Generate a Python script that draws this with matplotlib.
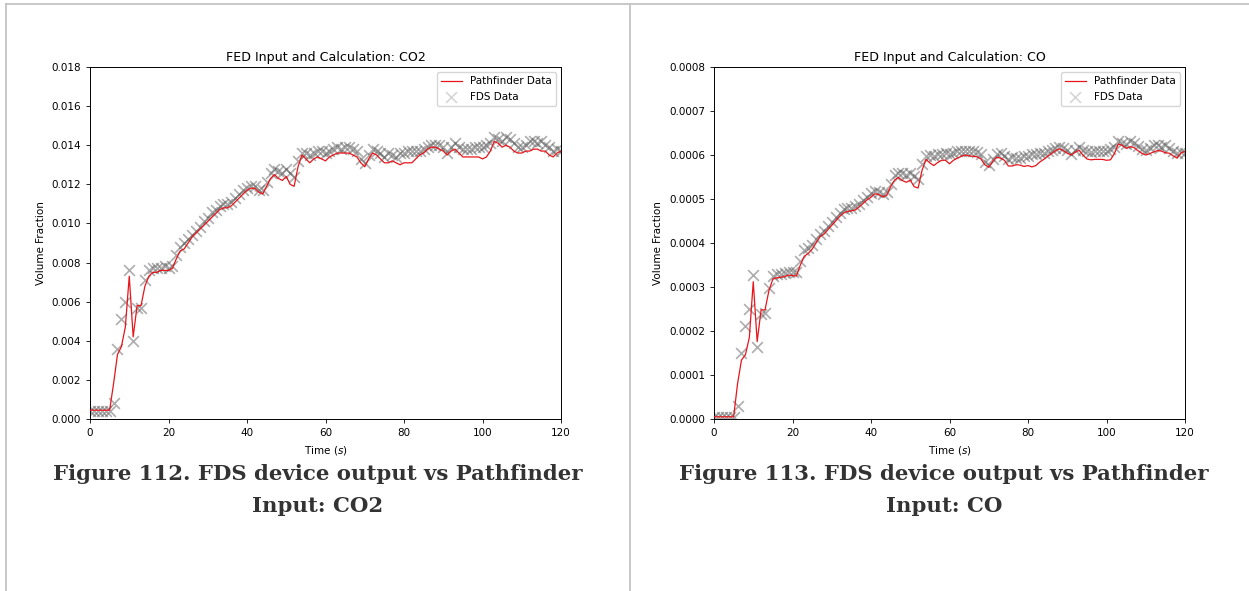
import numpy as np
import matplotlib.pyplot as plt
from matplotlib.lines import Line2D

# tiempo en segundos (una muestra por segundo)
tiempo = list(range(0, 121))

pf_co2 = [
    0.00045, 0.00045, 0.00045, 0.00045, 0.00045, 0.00045, 0.0018, 0.0033, 0.0037, 0.0047,
    0.0073, 0.0042, 0.0058, 0.0058, 0.0068, 0.0073, 0.0075, 0.0075, 0.0076, 0.0076,
    0.0076, 0.0077, 0.0082, 0.0086, 0.0087, 0.0090, 0.0093, 0.0095, 0.0097, 0.0099,
    0.0101, 0.0103, 0.0105, 0.0107, 0.0108, 0.0108, 0.0109, 0.0111, 0.0113, 0.0115,
    0.0117, 0.0118, 0.0118, 0.0116, 0.0115, 0.0119, 0.0123, 0.0125, 0.0123, 0.0122,
    0.0124, 0.0120, 0.0119, 0.0129, 0.0135, 0.0133, 0.0131, 0.0133, 0.0134, 0.0133,
    0.0132, 0.0134, 0.0135, 0.0136, 0.0136, 0.0136, 0.0136, 0.0135, 0.0134, 0.0131,
    0.0129, 0.0133, 0.0136, 0.0135, 0.0133, 0.0131, 0.0131, 0.0132, 0.0131, 0.0130,
    0.0131, 0.0131, 0.0131, 0.0133, 0.0135, 0.0136, 0.0138, 0.0139, 0.0139, 0.0138,
    0.0137, 0.0135, 0.0137, 0.0138, 0.0136, 0.0134, 0.0134, 0.0134, 0.0134, 0.0134,
    0.0133, 0.0134, 0.0137, 0.0142, 0.0141, 0.0139, 0.0140, 0.0139, 0.0137, 0.0136,
    0.0136, 0.0137, 0.0137, 0.0138, 0.0138, 0.0137, 0.0137, 0.0135, 0.0134, 0.0136,
    0.0137,
]

fds_co2 = [
    0.0004, 0.0004, 0.0004, 0.0004, 0.0004, 0.0004, 0.0008, 0.0036, 0.0051, 0.0060,
    0.0076, 0.0040, 0.0057, 0.0057, 0.0071, 0.0076, 0.0077, 0.0077, 0.0077, 0.0078,
    0.0077, 0.0078, 0.0084, 0.0088, 0.0090, 0.0092, 0.0094, 0.0096, 0.0098, 0.0101,
    0.0103, 0.0106, 0.0107, 0.0109, 0.0110, 0.0110, 0.0111, 0.0113, 0.0115, 0.0117,
    0.0118, 0.0119, 0.0119, 0.0117, 0.0117, 0.0121, 0.0126, 0.0128, 0.0127, 0.0126,
    0.0128, 0.0126, 0.0124, 0.0132, 0.0136, 0.0136, 0.0135, 0.0136, 0.0137, 0.0137,
    0.0136, 0.0137, 0.0138, 0.0139, 0.0138, 0.0139, 0.0139, 0.0138, 0.0137, 0.0133,
    0.0131, 0.0135, 0.0138, 0.0137, 0.0136, 0.0134, 0.0136, 0.0135, 0.0134, 0.0136,
    0.0136, 0.0137, 0.0137, 0.0137, 0.0137, 0.0138, 0.0139, 0.0140, 0.0140, 0.0140,
    0.0139, 0.0136, 0.0139, 0.0141, 0.0139, 0.0138, 0.0138, 0.0138, 0.0139, 0.0139,
    0.0139, 0.0140, 0.0141, 0.0144, 0.0143, 0.0142, 0.0144, 0.0143, 0.0141, 0.0139,
    0.0139, 0.0140, 0.0142, 0.0142, 0.0141, 0.0142, 0.0140, 0.0139, 0.0137, 0.0138,
    0.0137,
]

pf_co = [
    0.000005, 0.000005, 0.000005, 0.000005, 0.000005, 0.000005, 0.00008, 0.000134, 0.000146, 0.000185,
    0.000312, 0.000176, 0.000248, 0.000248, 0.000292, 0.000318, 0.000321, 0.000322, 0.000324, 0.000327,
    0.000326, 0.000325, 0.000350, 0.000370, 0.000376, 0.000386, 0.000400, 0.000414, 0.000420, 0.000430,
    0.000440, 0.000450, 0.000460, 0.000468, 0.000472, 0.000473, 0.000475, 0.000482, 0.000490, 0.000498,
    0.000504, 0.000512, 0.000510, 0.000505, 0.000508, 0.000528, 0.000543, 0.000549, 0.000542, 0.000538,
    0.000543, 0.000528, 0.000525, 0.000565, 0.000590, 0.000582, 0.000576, 0.000583, 0.000588, 0.000588,
    0.000580, 0.000588, 0.000593, 0.000597, 0.000600, 0.000598, 0.000597, 0.000596, 0.000591, 0.000578,
    0.000572, 0.000585, 0.000595, 0.000593, 0.000588, 0.000575, 0.000575, 0.000578, 0.000577, 0.000574,
    0.000576, 0.000573, 0.000576, 0.000584, 0.000590, 0.000597, 0.000603, 0.000610, 0.000614, 0.000610,
    0.000604, 0.000600, 0.000606, 0.000611, 0.000600, 0.000591, 0.000589, 0.000590, 0.000590, 0.000590,
    0.000588, 0.000589, 0.000603, 0.000625, 0.000622, 0.000615, 0.000619, 0.000617, 0.000610, 0.000604,
    0.000600, 0.000603, 0.000607, 0.000610, 0.000609, 0.000605, 0.000604, 0.000598, 0.000593, 0.000605,
    0.000608,
]

fds_co = [
    0.000005, 0.000005, 0.000005, 0.000005, 0.000005, 0.000005, 0.00003, 0.000150, 0.000212, 0.000250,
    0.000328, 0.000163, 0.000238, 0.000240, 0.000298, 0.000325, 0.000330, 0.000330, 0.000332, 0.000334,
    0.000333, 0.000333, 0.000358, 0.000383, 0.000388, 0.000395, 0.000408, 0.000420, 0.000428, 0.000438,
    0.000448, 0.000460, 0.000468, 0.000477, 0.000480, 0.000480, 0.000483, 0.000488, 0.000497, 0.000505,
    0.000513, 0.000518, 0.000517, 0.000512, 0.000515, 0.000535, 0.000555, 0.000560, 0.000558, 0.000555,
    0.000560, 0.000553, 0.000545, 0.000580, 0.000598, 0.000600, 0.000598, 0.000602, 0.000603, 0.000605,
    0.000603, 0.000605, 0.000608, 0.000610, 0.000608, 0.000610, 0.000608, 0.000606, 0.000603, 0.000585,
    0.000578, 0.000592, 0.000603, 0.000605, 0.000598, 0.000592, 0.000596, 0.000594, 0.000593, 0.000597,
    0.000598, 0.000602, 0.000603, 0.000604, 0.000605, 0.000608, 0.000612, 0.000617, 0.000618, 0.000617,
    0.000612, 0.000602, 0.000612, 0.000618, 0.000611, 0.000608, 0.000607, 0.000608, 0.000610, 0.000610,
    0.000610, 0.000613, 0.000618, 0.000632, 0.000628, 0.000624, 0.000632, 0.000628, 0.000620, 0.000613,
    0.000612, 0.000615, 0.000622, 0.000622, 0.000618, 0.000622, 0.000615, 0.000610, 0.000604, 0.000606,
    0.000605,
]

titulos = ["FED Input and Calculation: CO2", "FED Input and Calculation: CO"]
rotulos = ["Figure 112. FDS device output vs Pathfinder\nInput: CO2",
           "Figure 113. FDS device output vs Pathfinder\nInput: CO"]
limites_y = [0.018, 0.0008]
ticks_y = [np.arange(0, 0.0181, 0.002), np.arange(0, 0.00081, 0.0001)]
formatos = ["%.3f", "%.4f"]

fig = plt.figure(figsize=(12.49, 5.91), dpi=100)

# bordes de la tabla del documento
borde = "#c4c4c4"
fig.add_artist(Line2D([6 / 1249, 1], [1 - 4 / 591, 1 - 4 / 591], color=borde, lw=1.3))
fig.add_artist(Line2D([6 / 1249, 6 / 1249], [0, 1 - 4 / 591], color=borde, lw=1.3))
fig.add_artist(Line2D([630 / 1249, 630 / 1249], [0, 1 - 4 / 591], color=borde, lw=1.3))

pos_x = [90, 714]
series = [(pf_co2, fds_co2), (pf_co, fds_co)]

for i in range(2):
    ax = fig.add_axes([pos_x[i] / 1249, 172 / 591, 471 / 1249, 352 / 591])
    pf, fds = series[i]
    ax.plot(tiempo, pf, color="#e8151b", lw=0.9, label="Pathfinder Data", zorder=3)
    ax.scatter(tiempo, fds, marker="x", s=60, color="#5c5c5c", alpha=0.5, lw=1.2,
               label="FDS Data", zorder=2)
    ax.set_xlim(0, 120)
    ax.set_ylim(0, limites_y[i])
    ax.set_yticks(ticks_y[i])
    ax.yaxis.set_major_formatter(plt.FormatStrFormatter(formatos[i]))
    ax.tick_params(labelsize=7.5, length=3, width=0.6)
    for s in ax.spines.values():
        s.set_linewidth(0.7)
    ax.set_title(titulos[i], fontsize=9.1, pad=4)
    ax.set_xlabel("Time ($s$)", fontsize=7.5)
    ax.set_ylabel("Volume Fraction", fontsize=7.5)
    leg = ax.legend(loc="upper right", fontsize=7.5, framealpha=0.8)
    leg.legend_handles[1].set_alpha(0.25)

    cx = (318 if i == 0 else 944) / 1249
    fig.text(cx, 1 - 490 / 591, rotulos[i], ha="center", va="center",
             fontsize=15.3, fontweight="bold", family="DejaVu Serif",
             color="#333333", linespacing=1.75)

plt.savefig("out.png", dpi=100)
